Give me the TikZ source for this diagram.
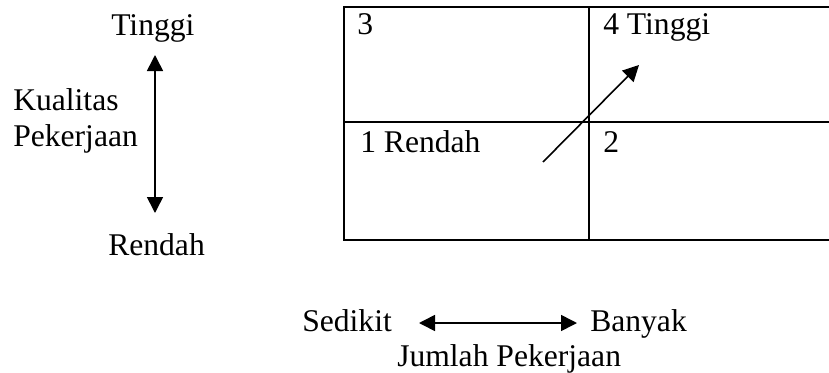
\documentclass[tikz,border=0pt]{standalone}
\usepackage{fontspec}
\setmainfont{Liberation Serif}
\usetikzlibrary{arrows.meta, positioning}

\begin{document}
\begin{tikzpicture}[
  x=0.75pt, y=-0.75pt,
  txt/.style={inner sep=0pt, anchor=base west, font=\fontsize{23.7}{28}\selectfont},
  grid/.style={line width=1.6pt},
  arr/.style={-{Triangle[length=12pt, width=12pt]}, line width=1.2pt},
  dblarr/.style={{Triangle[length=12pt, width=12pt]}-{Triangle[length=12pt, width=12pt]}, line width=1.2pt}
]
\useasboundingbox (0,0) rectangle (829,372);

% axis kualitas
\node[txt] (tinggi)   at (111,35)  {Tinggi};
\node[txt] (kual)     at (13,110)  {Kualitas};
\node[txt] (pek)      at (13,146)  {Pekerjaan};
\node[txt] (rendah)   at (108,255) {Rendah};
\coordinate (vtop) at (155,55);
\coordinate (vbot) at (155,213);
\draw[dblarr] (vtop) -- (vbot);

% kuadran
\draw[grid] (829,7) -- (344,7) -- (344,240) -- (829,240);
\draw[grid] (344,122) -- (829,122);
\draw[grid] (589,7) -- (589,240);
\node[txt] (q3) at (357,34)  {3};
\node[txt] (q4) at (603,34)  {4 Tinggi};
\node[txt] (q1) at (360,152) {1 Rendah};
\node[txt] (q2) at (603,152) {2};
\coordinate (dstart) at (543,162);
\coordinate (dend)   at (639,65);
\draw[arr] (dstart) -- (dend);

% axis jumlah
\node[txt] (sedikit) at (302,331) {Sedikit};
\node[txt] (banyak)  at (590,331) {Banyak};
\node[txt] (jumlah)  at (397,366) {Jumlah Pekerjaan};
\coordinate (hleft)  at (419,323);
\coordinate (hright) at (577,323);
\draw[dblarr] (hleft) -- (hright);
\end{tikzpicture}
\end{document}
